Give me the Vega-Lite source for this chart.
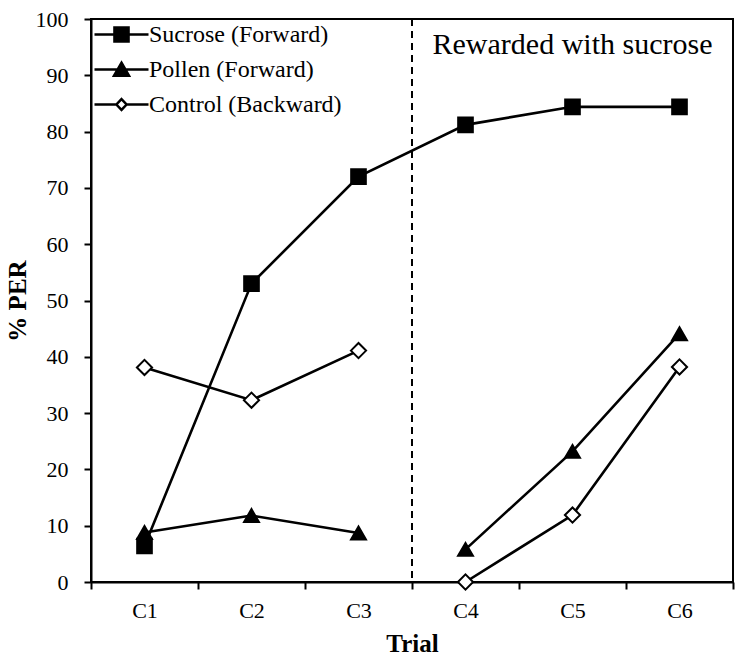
{
  "$schema": "https://vega.github.io/schema/vega-lite/v6.json",
  "width": 642,
  "height": 563,
  "autosize": {"type": "none"},
  "padding": {"left": 91, "top": 19, "right": 9, "bottom": 73},
  "background": "white",
  "config": {
    "font": "Liberation Serif",
    "view": {"stroke": "black", "strokeWidth": 2},
    "axis": {
      "grid": false,
      "domainColor": "black",
      "domainWidth": 2,
      "tickColor": "black",
      "tickWidth": 2,
      "tickSize": 7,
      "labelFont": "Liberation Serif",
      "labelFontSize": 22,
      "labelColor": "black",
      "titleFont": "Liberation Serif",
      "titleFontSize": 25,
      "titleFontWeight": "bold",
      "titleColor": "black"
    }
  },
  "datasets": {
    "points": [
      {"trial": "C1", "series": "Sucrose (Forward)", "seg": "all", "value": 6.4},
      {"trial": "C2", "series": "Sucrose (Forward)", "seg": "all", "value": 53.0},
      {"trial": "C3", "series": "Sucrose (Forward)", "seg": "all", "value": 72.0},
      {"trial": "C4", "series": "Sucrose (Forward)", "seg": "all", "value": 81.2},
      {"trial": "C5", "series": "Sucrose (Forward)", "seg": "all", "value": 84.4},
      {"trial": "C6", "series": "Sucrose (Forward)", "seg": "all", "value": 84.4},
      {"trial": "C1", "series": "Pollen (Forward)", "seg": "pre", "value": 8.8},
      {"trial": "C2", "series": "Pollen (Forward)", "seg": "pre", "value": 11.8},
      {"trial": "C3", "series": "Pollen (Forward)", "seg": "pre", "value": 8.7},
      {"trial": "C4", "series": "Pollen (Forward)", "seg": "post", "value": 5.8},
      {"trial": "C5", "series": "Pollen (Forward)", "seg": "post", "value": 23.2},
      {"trial": "C6", "series": "Pollen (Forward)", "seg": "post", "value": 44.1},
      {"trial": "C1", "series": "Control (Backward)", "seg": "pre", "value": 38.1},
      {"trial": "C2", "series": "Control (Backward)", "seg": "pre", "value": 32.3},
      {"trial": "C3", "series": "Control (Backward)", "seg": "pre", "value": 41.1},
      {"trial": "C4", "series": "Control (Backward)", "seg": "post", "value": 0},
      {"trial": "C5", "series": "Control (Backward)", "seg": "post", "value": 11.9},
      {"trial": "C6", "series": "Control (Backward)", "seg": "post", "value": 38.2}
    ],
    "notes": [
      {"trial": "C5", "value": 93.8, "note": "Rewarded with sucrose"}
    ]
  },
  "data": {"name": "points"},
  "encoding": {
    "x": {
      "field": "trial",
      "type": "nominal",
      "scale": {"type": "band", "domain": ["C1", "C2", "C3", "C4", "C5", "C6"], "paddingInner": 0, "paddingOuter": 0},
      "axis": {"title": "Trial", "labelAngle": 0, "tickBand": "extent", "labelPadding": 11, "titlePadding": 10}
    },
    "y": {
      "field": "value",
      "type": "quantitative",
      "scale": {"domain": [0, 100], "nice": false},
      "axis": {"title": "% PER", "values": [0, 10, 20, 30, 40, 50, 60, 70, 80, 90, 100], "labelPadding": 16, "titlePadding": 5}
    }
  },
  "layer": [
    {
      "mark": {"type": "rule", "color": "black", "strokeWidth": 2, "strokeDash": [7, 5]},
      "encoding": {
        "x": {"datum": "C4", "bandPosition": 0},
        "y": null
      }
    },
    {
      "mark": {"type": "line", "color": "black", "strokeWidth": 2.6},
      "encoding": {
        "detail": [{"field": "series"}, {"field": "seg"}]
      }
    },
    {
      "mark": {"type": "point", "filled": true, "stroke": "black", "strokeWidth": 2, "opacity": 1},
      "encoding": {
        "shape": {
          "field": "series",
          "type": "nominal",
          "scale": {"domain": ["Sucrose (Forward)", "Pollen (Forward)", "Control (Backward)"], "range": ["square", "triangle-up", "diamond"]},
          "legend": null
        },
        "fill": {
          "field": "series",
          "type": "nominal",
          "scale": {"domain": ["Sucrose (Forward)", "Pollen (Forward)", "Control (Backward)"], "range": ["black", "black", "white"]},
          "legend": null
        },
        "size": {
          "field": "series",
          "type": "nominal",
          "scale": {"domain": ["Sucrose (Forward)", "Pollen (Forward)", "Control (Backward)"], "range": [215, 230, 110]},
          "legend": null
        }
      }
    },
    {
      "transform": [{"filter": "false"}],
      "mark": {"type": "point", "filled": true, "strokeWidth": 2.5},
      "encoding": {
        "shape": {
          "field": "series",
          "type": "nominal",
          "scale": {
            "domain": ["Sucrose (Forward)", "Pollen (Forward)", "Control (Backward)"],
            "range": [
              "M-1.8,0H1.8M-0.47,-0.47H0.47V0.47H-0.47Z",
              "M-1.8,0H1.8M0,-0.45L0.5,0.41L-0.5,0.41Z",
              "M-1.8,0H-0.34M0.34,0H1.8M0,-0.36L0.34,0L0,0.36L-0.34,0Z"
            ]
          },
          "legend": {
            "title": null,
            "orient": "none",
            "legendX": 14,
            "legendY": -1,
            "padding": 0,
            "rowPadding": 6,
            "labelFont": "Liberation Serif",
            "labelFontSize": 24,
            "labelColor": "black",
            "labelLimit": 400,
            "labelOffset": 11,
            "symbolSize": 900,
            "symbolStrokeWidth": 2.5,
            "symbolStrokeColor": "black",
            "symbolOpacity": 1
          }
        },
        "fill": {
          "field": "series",
          "type": "nominal",
          "scale": {"domain": ["Sucrose (Forward)", "Pollen (Forward)", "Control (Backward)"], "range": ["black", "black", "white"]}
        },
        "stroke": {
          "field": "series",
          "type": "nominal",
          "scale": {"domain": ["Sucrose (Forward)", "Pollen (Forward)", "Control (Backward)"], "range": ["black", "black", "black"]}
        }
      }
    },
    {
      "data": {"name": "notes"},
      "mark": {"type": "text", "font": "Liberation Serif", "fontSize": 30, "color": "black", "align": "center", "baseline": "alphabetic"},
      "encoding": {
        "text": {"field": "note"}
      }
    }
  ],
  "resolve": {"scale": {"shape": "independent", "fill": "independent", "stroke": "independent"}}
}
